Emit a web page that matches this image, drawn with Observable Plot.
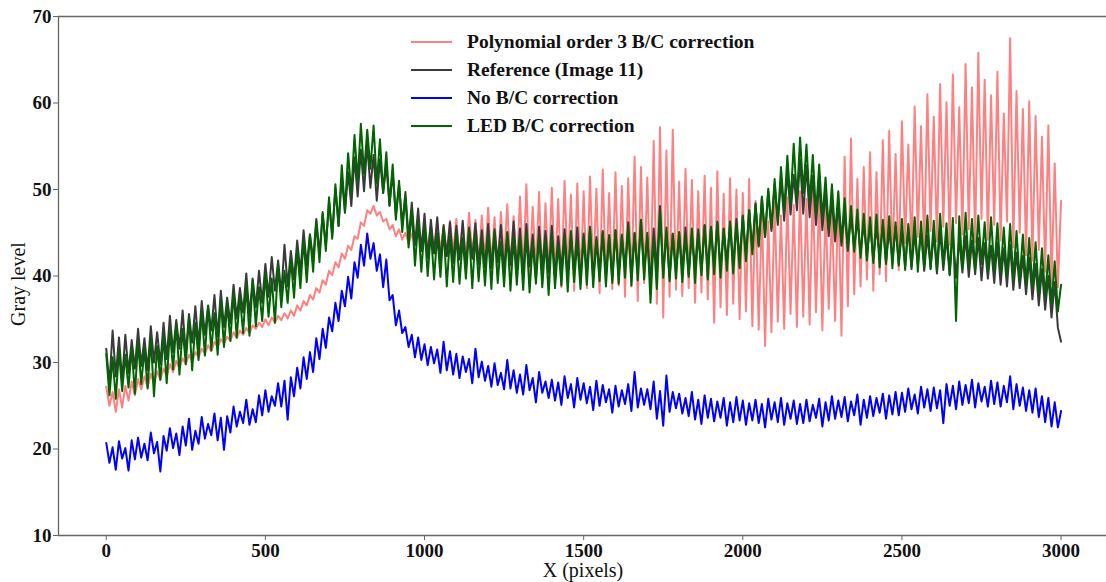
<!DOCTYPE html>
<html>
<head>
<meta charset="utf-8">
<script src="https://cdn.jsdelivr.net/npm/d3@7"></script>
<script src="https://cdn.jsdelivr.net/npm/@observablehq/plot@0.6"></script>
<style>
  html, body { margin: 0; padding: 0; background: #fff; }
  #wrap { position: relative; width: 1106px; height: 582px; font-family: "Liberation Serif", "Times New Roman", serif; }
  #wrap svg { position: absolute; left: 0; top: 0; }
  .lab { position: absolute; font-size: 20px; color: #111; white-space: nowrap; }
  #legend { position: absolute; left: 411px; top: 29px; }
  .row { position: relative; height: 28px; font-size: 19.5px; font-weight: bold; color: #111; white-space: nowrap; }
  .row .sw { position: absolute; left: 0; top: 12px; width: 41px; height: 2px; }
  .row .tx { position: absolute; left: 56px; top: 0; line-height: 26px; }
</style>
</head>
<body>
<div id="wrap"></div>
<script>
// sample grid: pixel column index, every 10 columns
const xStep = 10;
const xPixels = d3.range(0, 3001, xStep);

const seriesNames = ["Polynomial order 3 B/C correction", "Reference (Image 11)", "No B/C correction", "LED B/C correction"];
const seriesColors = ["#ff8080", "#3a3a3a", "#0000ff", "#006400"];

const polyValues = [
27.2,25.0,26.6,24.3,26.9,24.8,27.3,25.6,27.8,26.2,
28.1,26.9,28.4,27.1,28.7,27.5,29.0,28.0,29.3,28.4,
29.8,28.9,30.2,29.3,30.5,29.8,30.9,30.1,31.2,30.6,
31.6,31.0,32.0,31.3,32.4,31.8,32.7,32.2,33.0,32.5,
33.5,32.8,33.7,33.2,34.0,33.4,34.3,33.9,34.6,34.1,
35.0,34.3,35.2,34.6,35.4,34.9,35.7,35.1,36.0,35.4,
36.6,36.0,37.1,36.6,37.8,37.3,38.6,38.1,39.5,39.0,
40.6,40.1,41.6,41.0,42.6,42.0,43.5,43.0,44.6,44.3,
46.2,45.8,47.6,47.2,48.1,47.0,47.4,46.3,46.6,45.4,
45.9,44.6,45.4,44.2,45.0,43.8,44.9,43.5,45.0,43.4,
45.4,43.2,45.8,42.8,46.1,43.0,45.7,42.5,46.4,42.6,
46.6,42.1,46.0,41.9,47.3,42.3,46.5,41.5,47.0,41.8,
47.9,41.2,46.8,40.7,47.4,41.6,48.3,40.9,46.9,40.4,
49.2,40.1,50.6,39.8,48.0,40.5,49.7,39.2,48.4,40.0,
50.2,39.4,48.9,38.7,51.0,40.2,49.4,38.3,50.7,39.1,
49.8,38.6,51.5,39.7,50.1,38.0,52.3,39.3,49.6,38.5,
52.0,38.9,50.4,37.6,51.3,38.8,53.8,37.1,52.6,39.2,
51.4,38.2,55.6,36.8,57.2,35.2,54.5,37.6,56.9,38.4,
50.9,37.7,52.4,38.6,51.1,36.9,49.8,38.1,51.6,37.3,
50.2,34.6,52.1,36.4,49.5,35.5,51.3,36.8,50.0,35.0,
49.6,35.9,51.2,34.2,48.7,33.8,47.6,31.9,46.3,33.5,
48.5,34.7,47.0,33.9,49.1,35.6,48.2,34.1,49.8,35.3,
48.9,34.4,50.1,35.8,49.4,33.7,48.0,36.2,47.5,34.8,
49.6,33.1,53.8,36.5,55.9,37.9,51.2,38.8,52.6,39.6,
54.3,38.3,52.0,40.2,55.7,39.4,56.8,41.5,54.1,40.7,
57.9,43.8,55.2,42.6,59.6,44.5,57.3,43.1,61.0,45.2,
58.4,44.0,62.2,45.7,60.1,43.6,63.3,46.1,59.5,44.8,
64.5,45.4,61.8,43.9,65.8,46.6,62.7,44.2,60.9,45.9,
63.6,44.1,58.8,46.3,67.5,43.3,61.4,45.0,59.3,42.4,
60.2,41.8,58.5,43.0,56.1,40.5,57.4,39.1,53.0,38.7,
48.7];

const refValues = [
31.6,27.5,33.7,28.4,32.9,27.9,33.2,28.8,32.6,29.3,
33.9,29.6,32.8,29.1,34.2,30.0,33.5,29.8,34.6,30.4,
35.4,31.2,34.9,31.6,36.0,31.0,35.6,32.3,36.5,32.0,
37.1,33.2,36.6,33.7,37.8,33.0,38.3,34.1,37.5,34.5,
39.0,35.1,38.6,35.8,40.3,35.4,39.7,36.4,40.6,36.9,
41.4,37.6,42.2,38.3,41.8,37.9,43.6,38.8,42.9,39.6,
44.1,40.4,45.3,41.2,44.8,41.9,46.6,42.6,47.2,43.5,
48.6,44.7,50.1,45.8,51.4,47.3,52.0,48.1,53.7,49.2,
54.6,49.8,55.3,50.2,54.0,48.7,53.5,49.6,52.8,48.1,
51.9,47.0,50.6,45.9,49.7,44.3,48.5,43.6,47.8,42.9,
47.2,42.1,46.5,42.6,46.8,41.7,45.9,42.3,46.2,41.5,
45.8,41.9,46.4,41.2,45.6,42.0,46.1,41.4,45.3,41.0,
46.0,40.9,45.4,41.6,45.9,40.6,45.1,41.3,46.3,40.7,
45.5,40.2,46.0,41.1,44.8,39.6,45.7,40.8,45.2,40.4,
45.8,39.9,44.6,40.7,45.4,40.0,44.9,40.5,45.6,39.5,
44.9,40.3,45.7,39.8,44.5,40.6,45.2,40.1,44.7,39.7,
45.3,40.2,44.8,40.9,46.2,40.0,45.0,40.4,46.5,40.6,
44.6,39.2,45.5,40.8,48.1,40.3,45.1,39.9,44.9,40.5,
45.0,40.7,45.6,40.2,44.8,41.0,45.4,40.6,45.9,40.9,
45.7,41.2,46.3,40.8,45.5,41.6,46.0,41.3,46.6,41.8,
47.0,42.4,47.6,43.1,48.4,43.6,49.0,44.5,49.8,45.2,
50.6,45.9,51.3,46.4,52.2,47.1,51.7,47.6,53.5,47.2,
52.8,46.8,51.6,45.9,50.9,45.3,49.7,44.6,48.8,44.0,
48.2,43.5,47.4,42.9,46.9,43.2,46.5,42.6,46.1,42.3,
46.0,41.9,45.6,42.4,45.9,41.6,45.3,42.0,45.7,41.4,
45.2,41.1,45.6,40.8,44.9,41.3,45.1,40.6,44.7,40.9,
44.8,40.3,45.2,40.7,44.5,40.1,44.9,39.8,44.3,40.4,
44.6,39.9,44.1,40.2,44.4,39.5,43.8,39.7,43.5,39.2,
43.9,39.0,43.2,38.8,43.6,38.4,42.7,38.6,42.3,37.9,
42.1,37.3,41.4,36.6,40.8,36.1,40.0,35.2,39.3,34.0,
32.4];

const noCorrValues = [
20.7,18.4,20.2,17.6,20.9,18.9,20.1,17.5,21.0,18.8,
21.3,19.0,20.6,18.7,21.9,19.5,20.8,17.4,21.5,19.8,
22.4,20.1,21.8,19.3,22.6,20.4,23.5,19.9,22.1,20.6,
23.7,21.2,22.9,21.6,24.1,21.0,23.6,19.9,23.8,21.9,
24.9,22.6,24.3,23.0,25.7,22.8,24.6,23.1,26.2,23.9,
26.8,24.3,26.1,25.0,27.6,24.9,27.9,23.4,28.3,26.1,
29.4,27.0,30.6,28.1,31.2,28.9,32.8,30.4,33.9,31.7,
35.2,33.6,36.9,34.8,38.3,36.5,39.9,37.4,41.6,39.8,
43.6,41.2,44.9,42.0,43.8,40.6,42.5,38.7,41.9,37.2,
37.8,34.3,36.0,33.4,34.1,31.8,33.2,30.6,32.9,30.3,
32.1,29.7,31.8,29.9,31.5,28.8,32.4,29.1,31.3,28.6,
31.0,28.2,30.7,28.9,30.4,27.6,31.6,28.3,30.1,27.9,
29.6,27.2,29.9,27.4,28.8,26.9,30.3,27.0,29.1,26.5,
28.6,26.3,29.7,26.8,28.2,25.4,28.9,26.5,27.8,25.9,
28.0,25.6,27.7,25.1,28.4,25.9,27.5,24.8,28.2,25.7,
27.6,25.3,27.2,24.5,27.9,25.0,27.4,25.4,26.9,24.2,
27.3,24.9,26.8,25.2,27.5,24.4,28.9,24.8,27.0,25.1,
26.9,24.6,27.8,23.5,26.7,22.7,28.5,24.3,26.6,24.7,
26.4,24.1,25.9,23.8,26.6,23.4,25.7,22.9,26.2,23.6,
25.8,23.2,25.5,23.6,25.9,22.7,25.4,23.1,26.0,23.3,
25.6,22.8,25.3,23.3,25.7,23.0,25.2,22.5,25.8,23.4,
25.4,23.1,25.9,22.8,25.3,23.5,25.6,22.9,25.2,23.0,
25.7,23.2,25.1,23.6,25.8,22.6,25.4,23.3,26.1,23.5,
25.6,23.7,26.0,23.2,25.5,23.9,26.3,22.8,25.7,23.6,
26.1,23.8,25.9,24.2,26.4,23.5,26.2,24.0,26.6,23.9,
26.5,24.3,27.0,24.6,26.3,24.1,27.2,24.8,26.9,24.4,
27.1,24.7,26.8,23.0,27.5,25.0,27.3,24.6,27.8,25.1,
27.4,25.3,28.0,24.8,27.6,25.5,27.2,24.9,27.9,25.2,
27.7,24.9,27.3,25.4,28.4,24.6,27.5,25.0,27.1,24.4,
26.8,24.2,27.0,23.7,26.1,23.1,25.9,22.6,25.4,22.5,
24.4];

const ledValues = [
31.0,26.2,30.6,25.8,31.4,26.7,30.9,27.1,31.7,26.4,
32.3,27.5,31.6,27.0,32.8,26.1,31.9,28.0,33.1,27.6,
33.7,29.2,34.4,28.6,33.9,29.8,35.2,29.1,34.6,30.3,
35.9,30.8,36.5,31.4,35.7,30.9,37.2,31.8,36.8,32.5,
38.1,32.9,37.6,33.4,38.9,33.1,39.5,34.2,38.7,34.8,
40.3,35.3,39.7,34.6,41.2,36.4,40.6,36.9,42.0,37.5,
43.1,38.6,44.2,39.3,44.8,40.5,46.3,41.6,47.4,42.9,
49.1,44.3,50.6,45.8,52.8,47.6,54.2,49.5,56.3,51.0,
57.6,51.8,56.9,52.4,57.4,50.7,55.8,49.6,54.3,48.2,
52.9,46.5,51.0,45.1,49.2,43.3,47.6,41.2,46.3,40.5,
45.7,40.0,45.2,39.6,44.9,39.9,45.5,38.8,44.6,39.3,
45.0,39.1,44.4,39.7,45.3,38.6,44.8,39.4,44.2,38.9,
44.7,38.5,45.1,39.2,44.0,38.8,44.9,38.3,44.5,39.0,
44.3,38.4,45.0,38.1,43.9,39.1,44.6,38.7,44.1,37.8,
44.8,38.6,43.7,38.9,44.5,38.2,45.2,39.3,44.0,38.5,
44.6,39.0,45.4,38.7,44.2,39.4,45.0,38.8,44.7,39.2,
45.3,39.1,44.6,39.8,45.7,38.9,44.9,39.5,46.4,39.6,
45.0,36.9,44.4,38.5,47.4,39.8,45.6,39.4,44.8,39.7,
45.1,39.3,44.6,39.9,45.5,39.2,45.0,40.1,45.8,39.6,
45.6,40.2,46.1,39.8,45.4,40.6,46.3,40.3,46.0,40.9,
46.9,41.7,47.6,42.5,48.3,43.4,49.2,44.6,50.1,45.5,
51.2,46.3,52.6,47.5,53.9,48.4,55.3,48.8,56.0,49.6,
55.2,48.5,54.0,47.2,52.9,46.6,51.4,45.3,50.6,44.7,
49.8,44.0,49.0,43.2,48.1,42.8,47.7,42.1,47.2,41.8,
46.8,41.5,47.1,41.0,46.5,41.4,46.9,40.9,46.2,41.2,
46.6,40.7,46.0,41.1,46.8,40.5,46.3,41.0,47.0,40.8,
46.4,40.6,47.2,41.3,46.1,40.2,46.7,34.8,46.9,40.9,
47.3,41.1,46.6,40.7,47.0,41.4,46.2,40.4,46.8,40.6,
46.1,40.3,45.6,40.0,46.0,39.6,45.2,39.4,44.8,39.0,
44.4,38.6,43.9,38.0,43.2,37.5,42.4,36.8,41.7,35.9,
39.0];

const xTicks = [0, 500, 1000, 1500, 2000, 2500, 3000];
const yTicks = [10, 20, 30, 40, 50, 60, 70];

const allValues = [polyValues, refValues, noCorrValues, ledValues];
const rows = [];
allValues.forEach((vals, s) => {
  vals.forEach((v, i) => rows.push({x: xPixels[i], y: v, series: seriesNames[s]}));
});

const W = 1106, H = 582;
const chart = Plot.plot({
  width: W,
  height: H,
  marginTop: 16,
  marginBottom: 47,
  marginLeft: 58,
  marginRight: 0,
  style: {fontFamily: "'Liberation Serif', 'Times New Roman', serif", fontSize: "19px", fontWeight: "bold", color: "#111", background: "transparent"},
  x: {domain: [-150, 3149], range: [58, 1108]},
  y: {domain: [10, 70]},
  color: {domain: seriesNames, range: seriesColors},
  marks: [
    Plot.line(rows, {x: "x", y: "y", z: "series", stroke: "series", strokeWidth: 2, strokeLinejoin: "round"}),
    Plot.ruleY([10, 70], {stroke: "#666", strokeWidth: 1.3}),
    Plot.ruleX([-150], {stroke: "#666", strokeWidth: 1.3}),
    Plot.axisX({ticks: xTicks, tickFormat: d3.format("d"), tickSize: 5, tickPadding: 3, label: null, stroke: "#666", fontSize: 19, fontWeight: "bold"}),
    Plot.axisY({ticks: yTicks, tickFormat: d3.format("d"), tickSize: 5, tickPadding: 2, label: null, stroke: "#666", fontSize: 19, fontWeight: "bold"})
  ]
});

const wrap = document.getElementById("wrap");
wrap.appendChild(chart);

const xl = document.createElement("div");
xl.className = "lab";
xl.textContent = "X (pixels)";
xl.style.left = "583px"; xl.style.top = "559px"; xl.style.transform = "translateX(-50%)";
wrap.appendChild(xl);

const yl = document.createElement("div");
yl.className = "lab";
yl.textContent = "Gray level";
yl.style.left = "18px"; yl.style.top = "284px";
yl.style.transform = "translate(-50%, -50%) rotate(-90deg)";
wrap.appendChild(yl);

const lg = document.createElement("div");
lg.id = "legend";
seriesNames.forEach((n, i) => {
  const r = document.createElement("div");
  r.className = "row";
  const sw = document.createElement("div");
  sw.className = "sw"; sw.style.background = seriesColors[i];
  const tx = document.createElement("div");
  tx.className = "tx"; tx.textContent = n;
  r.appendChild(sw); r.appendChild(tx);
  lg.appendChild(r);
});
wrap.appendChild(lg);
</script>
</body>
</html>
